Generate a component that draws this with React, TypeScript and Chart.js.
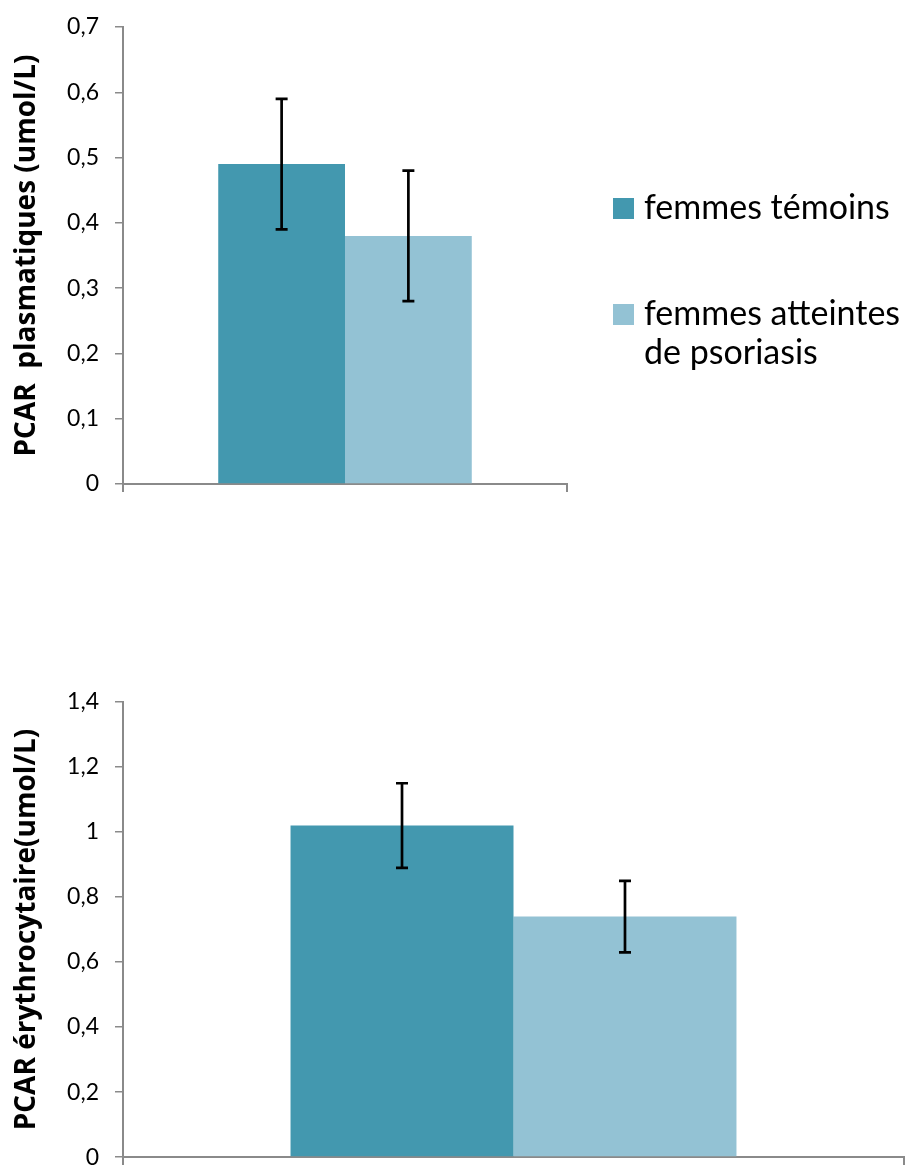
import React, { useEffect, useRef } from "react";
import { Chart, registerables } from "chart.js";

Chart.register(...registerables);

// Groups compared in both panels
const groups = ["femmes témoins", "femmes atteintes de psoriasis"];
const groupColors = ["#4398AF", "#93C2D4"];

// Plasma PCAR (umol/L): mean and error
const plasmaMeans = [0.49, 0.38];
const plasmaErrors = [0.1, 0.1];

// Erythrocyte PCAR (umol/L): mean and error
const erythroMeans = [1.02, 0.74];
const erythroErrors = [0.13, 0.11];

const plasmaTitle = "PCAR  plasmatiques (umol/L)";
const erythroTitle = "PCAR érythrocytaire(umol/L)";

const AXIS_GRAY = "#8a8a8a";
const FONT = "Lato, 'Open Sans', sans-serif";
const TITLE_FONT = "'Open Sans', Lato, sans-serif";

const fmt = (v: number) => String(Number(Number(v).toFixed(1))).replace(".", ",");

// Vertical error bars with caps, drawn over each bar
const errorBarPlugin = {
  id: "errorBars",
  afterDatasetsDraw(chart: any) {
    const { ctx } = chart;
    const yScale = chart.scales.y;
    chart.data.datasets.forEach((ds: any, i: number) => {
      const meta = chart.getDatasetMeta(i);
      meta.data.forEach((el: any, j: number) => {
        const v = ds.data[j];
        const e = ds.errors[j];
        const x = el.x;
        const yTop = yScale.getPixelForValue(v + e);
        const yBot = yScale.getPixelForValue(v - e);
        ctx.save();
        ctx.strokeStyle = "#000";
        ctx.lineWidth = 2.7;
        ctx.beginPath();
        ctx.moveTo(x, yTop);
        ctx.lineTo(x, yBot);
        ctx.moveTo(x - 6, yTop);
        ctx.lineTo(x + 6, yTop);
        ctx.moveTo(x - 6, yBot);
        ctx.lineTo(x + 6, yBot);
        ctx.stroke();
        ctx.restore();
      });
    });
  },
};

// Legend to the right of the plot, with word wrapping
const sideLegendPlugin = {
  id: "sideLegend",
  afterDraw(chart: any) {
    const { ctx, chartArea, width } = chart;
    const boxX = chartArea.right + 46;
    const box = 21;
    const textX = boxX + box + 10;
    const maxW = width - textX - 2;
    const rowBottoms = [chartArea.top + 192, chartArea.top + 298];
    const lineH = 39;
    ctx.save();
    ctx.font = `34px ${FONT}`;
    ctx.textBaseline = "alphabetic";
    chart.data.datasets.forEach((ds: any, i: number) => {
      const yb = rowBottoms[i];
      ctx.fillStyle = ds.backgroundColor;
      ctx.fillRect(boxX, yb - box, box, box);
      ctx.fillStyle = "#000";
      const words = String(ds.label).split(" ");
      const lines: string[] = [];
      let cur = "";
      words.forEach((w) => {
        const t = cur ? cur + " " + w : w;
        if (cur && ctx.measureText(t).width > maxW) {
          lines.push(cur);
          cur = w;
        } else cur = t;
      });
      if (cur) lines.push(cur);
      lines.forEach((ln, k) => ctx.fillText(ln, textX, yb + k * lineH));
    });
    ctx.restore();
  },
};

function makeConfig(
  means: number[],
  errors: number[],
  yMax: number,
  step: number,
  title: string,
  padding: any,
  withLegend: boolean
) {
  return {
    type: "bar" as const,
    data: {
      labels: [""],
      datasets: groups.map((g, i) => ({
        label: g,
        data: [means[i]],
        errors: [errors[i]],
        backgroundColor: groupColors[i],
        borderWidth: 0,
        categoryPercentage: 0.571,
        barPercentage: 1,
      })),
    },
    options: {
      animation: false,
      responsive: false,
      devicePixelRatio: 1,
      layout: { padding },
      plugins: {
        legend: { display: false },
        tooltip: { enabled: false },
      },
      scales: {
        x: {
          offset: true,
          grid: {
            offset: true,
            drawOnChartArea: false,
            drawTicks: true,
            tickLength: 8,
            color: AXIS_GRAY,
            lineWidth: 2,
          },
          border: { display: true, color: AXIS_GRAY, width: 2 },
          ticks: { display: false },
          afterFit: (s: any) => {
            s.height = 8;
          },
        },
        y: {
          min: 0,
          max: yMax,
          ticks: {
            stepSize: step,
            padding: 16,
            color: "#000",
            font: { family: FONT, size: 23, lineHeight: 0.6 },
            callback: (v: any) => fmt(v),
          },
          grid: {
            drawOnChartArea: false,
            drawTicks: true,
            tickLength: 8,
            color: AXIS_GRAY,
            lineWidth: 1.5,
          },
          border: { display: true, color: AXIS_GRAY, width: 2 },
          title: {
            display: true,
            text: title,
            color: "#000",
            font: { family: TITLE_FONT, size: 28, weight: "bold" },
            padding: { top: 10, bottom: 0 },
          },
          afterFit: (s: any) => {
            s.width = 123;
          },
        },
      },
    },
    plugins: withLegend ? [errorBarPlugin, sideLegendPlugin] : [errorBarPlugin],
  };
}

function BarPanel(props: {
  top: number;
  height: number;
  means: number[];
  errors: number[];
  yMax: number;
  step: number;
  title: string;
  padding: any;
  withLegend: boolean;
}) {
  const ref = useRef<HTMLCanvasElement | null>(null);
  useEffect(() => {
    if (!ref.current) return;
    const chart = new Chart(
      ref.current,
      makeConfig(
        props.means,
        props.errors,
        props.yMax,
        props.step,
        props.title,
        props.padding,
        props.withLegend
      ) as any
    );
    return () => chart.destroy();
  }, []);
  return (
    <canvas
      ref={ref}
      width={910}
      height={props.height}
      style={{
        position: "absolute",
        left: 0,
        top: props.top,
        width: 910,
        height: props.height,
      }}
    />
  );
}

export default function App() {
  return (
    <div
      style={{
        position: "absolute",
        left: 0,
        top: 0,
        width: 910,
        height: 1166,
        overflow: "hidden",
        background: "#fff",
      }}
    >
      <BarPanel
        top={0}
        height={510}
        means={plasmaMeans}
        errors={plasmaErrors}
        yMax={0.7}
        step={0.1}
        title={plasmaTitle}
        padding={{ left: 0, top: 27, right: 343, bottom: 18 }}
        withLegend={true}
      />
      <BarPanel
        top={660}
        height={520}
        means={erythroMeans}
        errors={erythroErrors}
        yMax={1.4}
        step={0.2}
        title={erythroTitle}
        padding={{ left: 0, top: 42, right: 6, bottom: 11 }}
        withLegend={false}
      />
    </div>
  );
}
